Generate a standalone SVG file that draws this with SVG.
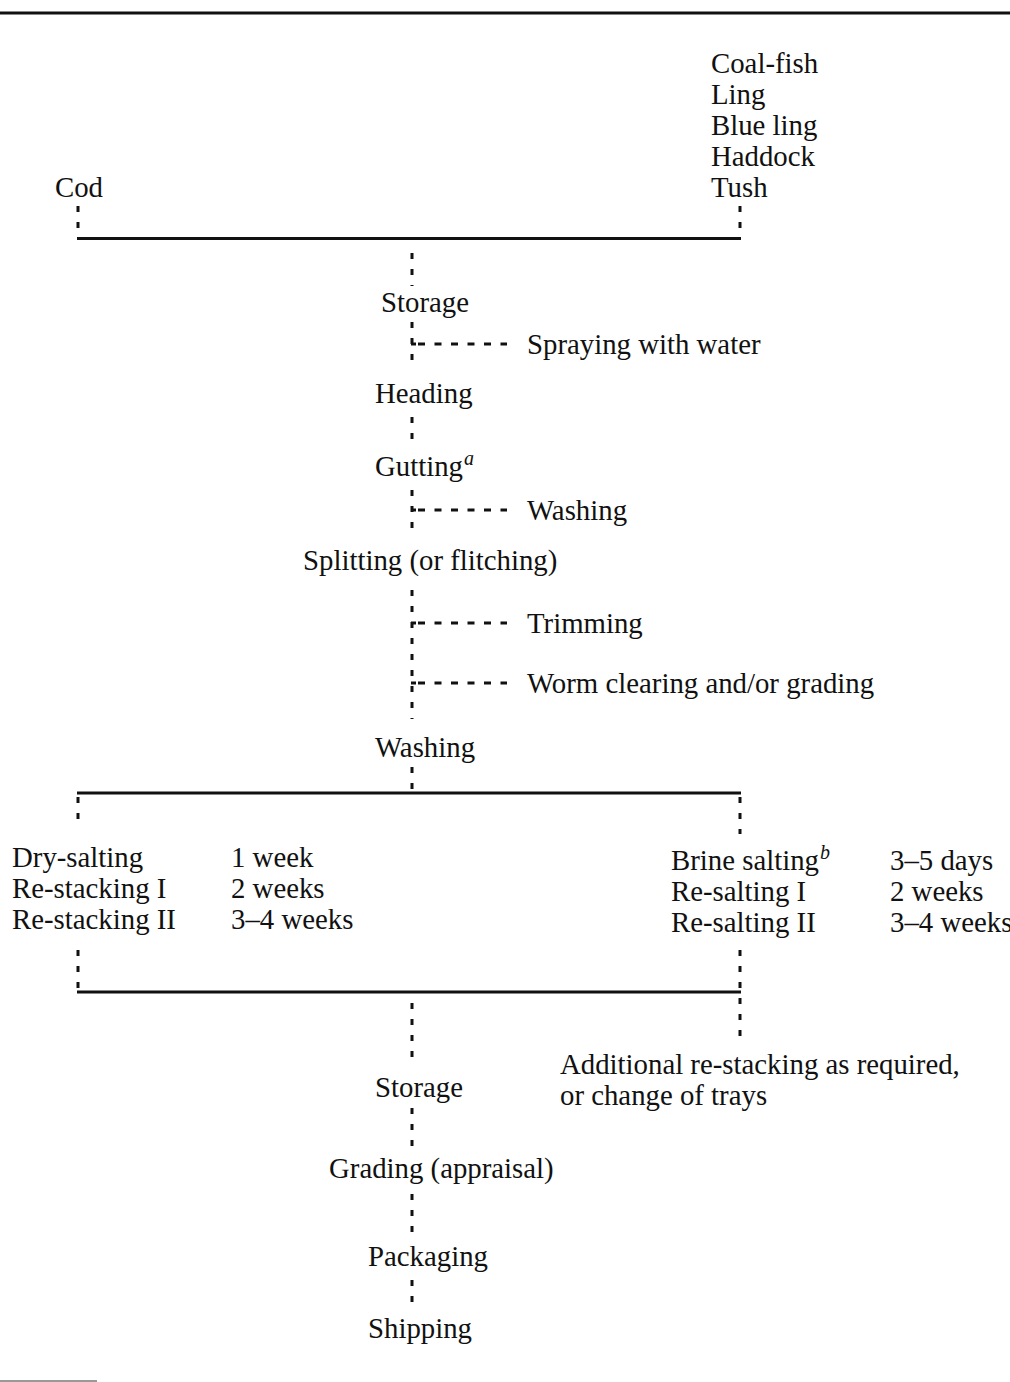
<svg xmlns="http://www.w3.org/2000/svg" width="1010" height="1382" viewBox="0 0 1010 1382">
<style>
.t{font-family:"Liberation Serif","Times New Roman",serif;font-size:28.8px;fill:#111}
.sup{font-style:italic;font-size:20px}
.d{stroke:#111;stroke-width:3;stroke-dasharray:6 10;fill:none}
.b{stroke:#111;stroke-width:3;stroke-dasharray:7 9.5;fill:none}
.s{stroke:#111;stroke-width:3;fill:none}
</style>
<rect width="1010" height="1382" fill="#fff"/>
<line x1="0" y1="13" x2="1010" y2="13" stroke="#111" stroke-width="3"/>
<line x1="0" y1="1381" x2="97" y2="1381" stroke="#777" stroke-width="1.5"/>

<g id="connectors">
  <!-- top bracket -->
  <line class="d" x1="78" y1="206" x2="78" y2="238"/>
  <line class="d" x1="740" y1="206" x2="740" y2="238"/>
  <line class="s" x1="77" y1="238.5" x2="741" y2="238.5"/>
  <line class="d" x1="412" y1="253" x2="412" y2="286"/>
  <!-- storage to heading -->
  <line class="d" x1="412" y1="322" x2="412" y2="370"/>
  <line class="s" x1="411" y1="344" x2="416" y2="344"/>
  <line class="b" x1="418" y1="344" x2="507" y2="344"/>
  <!-- heading to gutting -->
  <line class="d" x1="412" y1="417" x2="412" y2="443"/>
  <!-- gutting to splitting -->
  <line class="d" x1="412" y1="490" x2="412" y2="532"/>
  <line class="s" x1="411" y1="510" x2="416" y2="510"/>
  <line class="b" x1="418" y1="510" x2="507" y2="510"/>
  <!-- splitting to washing -->
  <line class="d" x1="412" y1="590" x2="412" y2="719"/>
  <line class="s" x1="411" y1="623" x2="416" y2="623"/>
  <line class="b" x1="418" y1="623" x2="507" y2="623"/>
  <line class="s" x1="411" y1="683" x2="416" y2="683"/>
  <line class="b" x1="418" y1="683" x2="507" y2="683"/>
  <!-- washing to second bracket -->
  <line class="d" x1="412" y1="767" x2="412" y2="793"/>
  <line class="s" x1="77" y1="793" x2="741" y2="793"/>
  <line class="d" x1="78" y1="797" x2="78" y2="829"/>
  <line class="d" x1="740" y1="797" x2="740" y2="834"/>
  <!-- third bracket -->
  <line class="d" x1="78" y1="950" x2="78" y2="992"/>
  <line class="s" x1="77" y1="992" x2="741" y2="992"/>
  <line class="d" x1="740" y1="950" x2="740" y2="1038"/>
  <line class="d" x1="412" y1="1003" x2="412" y2="1060"/>
  <!-- lower chain -->
  <line class="d" x1="412" y1="1108" x2="412" y2="1146"/>
  <line class="d" x1="412" y1="1194" x2="412" y2="1236"/>
  <line class="d" x1="412" y1="1280" x2="412" y2="1312"/>
</g>

<g id="cod"><text class="t" x="55" y="197">Cod</text></g>
<g id="other-species">
  <text class="t" x="711" y="73">Coal-fish</text>
  <text class="t" x="711" y="104">Ling</text>
  <text class="t" x="711" y="135">Blue ling</text>
  <text class="t" x="711" y="166">Haddock</text>
  <text class="t" x="711" y="197">Tush</text>
</g>
<g id="storage1"><text class="t" x="381" y="312">Storage</text></g>
<g id="spraying"><text class="t" x="527" y="354">Spraying with water</text></g>
<g id="heading"><text class="t" x="375" y="403">Heading</text></g>
<g id="gutting"><text class="t" x="375" y="476">Gutting<tspan class="sup" dx="1" dy="-11">a</tspan></text></g>
<g id="washing1"><text class="t" x="527" y="520">Washing</text></g>
<g id="splitting"><text class="t" x="303" y="570">Splitting (or flitching)</text></g>
<g id="trimming"><text class="t" x="527" y="633">Trimming</text></g>
<g id="worm"><text class="t" x="527" y="693">Worm clearing and/or grading</text></g>
<g id="washing2"><text class="t" x="375" y="757">Washing</text></g>
<g id="dry-salting">
  <text class="t" x="12" y="867">Dry-salting</text>
  <text class="t" x="12" y="898">Re-stacking I</text>
  <text class="t" x="12" y="929">Re-stacking II</text>
  <text class="t" x="231" y="867">1 week</text>
  <text class="t" x="231" y="898">2 weeks</text>
  <text class="t" x="231" y="929">3–4 weeks</text>
</g>
<g id="brine-salting">
  <text class="t" x="671" y="870">Brine salting<tspan class="sup" dx="1" dy="-11">b</tspan></text>
  <text class="t" x="671" y="901">Re-salting I</text>
  <text class="t" x="671" y="932">Re-salting II</text>
  <text class="t" x="890" y="870">3–5 days</text>
  <text class="t" x="890" y="901">2 weeks</text>
  <text class="t" x="890" y="932">3–4 weeks</text>
</g>
<g id="additional">
  <text class="t" x="560" y="1074">Additional re-stacking as required,</text>
  <text class="t" x="560" y="1105">or change of trays</text>
</g>
<g id="storage2"><text class="t" x="375" y="1097">Storage</text></g>
<g id="grading"><text class="t" x="329" y="1178">Grading (appraisal)</text></g>
<g id="packaging"><text class="t" x="368" y="1266">Packaging</text></g>
<g id="shipping"><text class="t" x="368" y="1338">Shipping</text></g>
</svg>
